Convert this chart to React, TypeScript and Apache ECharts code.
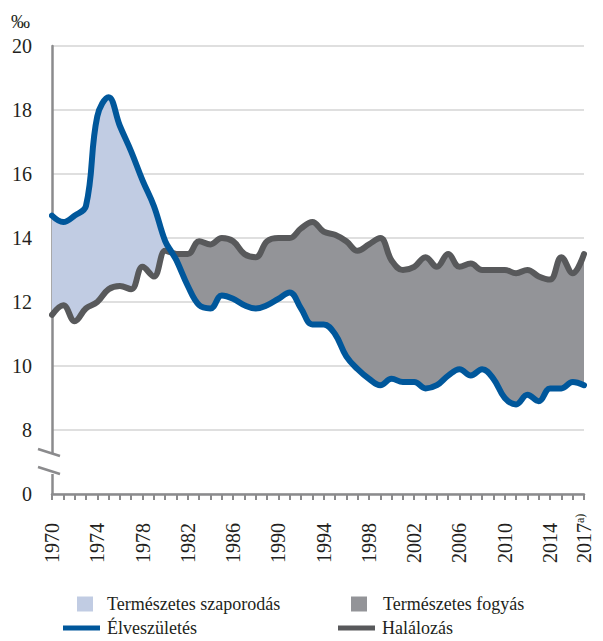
import React, { useEffect, useRef } from "react";
import * as echarts from "echarts";

const years = [
  1970, 1971, 1972, 1973, 1974, 1975, 1976, 1977, 1978, 1979,
  1980, 1981, 1982, 1983, 1984, 1985, 1986, 1987, 1988, 1989,
  1990, 1991, 1992, 1993, 1994, 1995, 1996, 1997, 1998, 1999,
  2000, 2001, 2002, 2003, 2004, 2005, 2006, 2007, 2008, 2009,
  2010, 2011, 2012, 2013, 2014, 2015, 2016, 2017,
];

// Élveszületés (per 1000)
const births = [
  14.7, 14.5, 14.7, 15.0, 17.8, 18.4, 17.5, 16.7, 15.8, 15.0,
  13.9, 13.3, 12.5, 11.9, 11.8, 12.2, 12.1, 11.9, 11.8, 11.9,
  12.1, 12.3, 11.8, 11.3, 11.3, 11.0, 10.3, 9.9, 9.6, 9.4,
  9.6, 9.5, 9.5, 9.3, 9.4, 9.7, 9.9, 9.7, 9.9, 9.6,
  9.0, 8.8, 9.1, 8.9, 9.3, 9.3, 9.5, 9.4,
];

// Halálozás (per 1000)
const deaths = [
  11.6, 11.9, 11.4, 11.8, 12.0, 12.4, 12.5, 12.4, 13.1, 12.8,
  13.6, 13.5, 13.5, 13.9, 13.8, 14.0, 13.9, 13.5, 13.4, 13.9,
  14.0, 14.0, 14.3, 14.5, 14.2, 14.1, 13.9, 13.6, 13.8, 14.0,
  13.3, 13.0, 13.1, 13.4, 13.1, 13.5, 13.1, 13.2, 13.0, 13.0,
  13.0, 12.9, 13.0, 12.8, 12.7, 13.4, 12.9, 13.5,
];

const labelYears = [1970, 1974, 1978, 1982, 1986, 1990, 1994, 1998, 2002, 2006, 2010, 2014, 2017];
const lastYearLabel = "2017";
const lastYearNote = "a)";

const seriesNames = {
  pos: "Természetes szaporodás",
  neg: "Természetes fogyás",
  births: "Élveszületés",
  deaths: "Halálozás",
};

const FONT = "Liberation Serif";
const TEXT = "#231f20";
const AXIS = "#8b8b8d";
const BLUE = "#00579b";
const DARK = "#58595b";
const FILL_POS = "#c1cce3";
const FILL_NEG = "#939498";

type Pt = { x: number; b: number; d: number };

// yearly points plus the interpolated crossing point of the two curves
function buildPoints(): Pt[] {
  const pts: Pt[] = [];
  for (let i = 0; i < years.length; i++) {
    pts.push({ x: years[i], b: births[i], d: deaths[i] });
    if (i < years.length - 1) {
      const d0 = births[i] - deaths[i];
      const d1 = births[i + 1] - deaths[i + 1];
      if (d0 * d1 < 0) {
        const t = d0 / (d0 - d1);
        const xc = years[i] + t * (years[i + 1] - years[i]);
        const yc = births[i] + t * (births[i + 1] - births[i]);
        pts.push({ x: xc, b: yc, d: yc });
      }
    }
  }
  return pts;
}

export default function App() {
  const ref = useRef<HTMLDivElement>(null);

  useEffect(() => {
    if (!ref.current) return;
    const chart = echarts.init(ref.current, undefined, { renderer: "svg" });
    const pts = buildPoints();
    const smooth = 0.4;

    const legendCommon = {
      orient: "horizontal" as const,
      padding: 0,
      selectedMode: false,
    };
    const lt = (pad: number) => ({ fontFamily: FONT, fontSize: 18, lineHeight: 20, color: TEXT, padding: [0, 0, 0, pad] });

    // value first, year second, so that stacking happens on the value (y) dimension
    const stackEncode = { x: 1, y: 0 };

    const option: any = {
      animation: false,
      backgroundColor: "#ffffff",
      textStyle: { fontFamily: FONT },
      grid: { left: 52, right: 19, top: 46, bottom: 147, containLabel: false },
      xAxis: {
        type: "value",
        min: 1970,
        max: 2017,
        interval: 1,
        axisLine: { show: true, lineStyle: { color: AXIS, width: 2.5 } },
        axisTick: { show: true, length: 6, lineStyle: { color: AXIS, width: 2 } },
        splitLine: { show: false },
        axisLabel: {
          rotate: 90,
          align: "left",
          verticalAlign: "middle",
          margin: 69,
          fontFamily: FONT,
          fontSize: 20,
          color: TEXT,
          formatter: (v: number) => {
            if (v === 2017) return `{y|${lastYearLabel}}{s|${lastYearNote}}`;
            return labelYears.includes(v) ? String(v) : "";
          },
          rich: {
            y: { fontFamily: FONT, fontSize: 20, color: TEXT },
            s: { fontFamily: FONT, fontSize: 12, color: TEXT, verticalAlign: "top", padding: [0, 0, 7, 0] },
          },
        },
      },
      yAxis: {
        type: "value",
        min: 6,
        max: 20,
        interval: 2,
        name: "‰",
        nameLocation: "end",
        nameGap: 15,
        nameTextStyle: { fontFamily: FONT, fontSize: 19, color: TEXT, align: "right", padding: [0, 22, 0, 0] },
        axisLine: { show: true, lineStyle: { color: AXIS, width: 2.5 } },
        axisTick: { show: false },
        splitLine: { show: true, lineStyle: { color: "#d4d4d4", width: 1.5 } },
        axisLabel: {
          fontFamily: FONT,
          fontSize: 20,
          color: TEXT,
          margin: 20,
          formatter: (v: number) => (v === 6 ? "0" : String(v)),
        },
      },
      legend: [
        { ...legendCommon, left: 77, top: 594, itemWidth: 16, itemHeight: 15,
          data: [{ name: seriesNames.pos, icon: "rect", itemStyle: { color: FILL_POS } }],
          textStyle: lt(9) },
        { ...legendCommon, left: 351, top: 594, itemWidth: 16, itemHeight: 15,
          data: [{ name: seriesNames.neg, icon: "rect", itemStyle: { color: FILL_NEG } }],
          textStyle: lt(11) },
        { ...legendCommon, left: 63, top: 618, itemWidth: 37, itemHeight: 5,
          data: [{ name: seriesNames.births, icon: "rect", itemStyle: { color: BLUE } }],
          textStyle: lt(2) },
        { ...legendCommon, left: 338, top: 618, itemWidth: 37, itemHeight: 5,
          data: [{ name: seriesNames.deaths, icon: "rect", itemStyle: { color: DARK } }],
          textStyle: lt(2) },
      ],
      series: [
        {
          type: "line", name: "base", stack: "fill", encode: stackEncode,
          data: pts.map((p) => [Math.min(p.b, p.d), p.x]),
          smooth, symbol: "none", lineStyle: { width: 0, opacity: 0 }, silent: true, z: 1,
        },
        {
          type: "line", name: seriesNames.pos, stack: "fill", encode: stackEncode,
          data: pts.map((p) => [Math.max(p.b - p.d, 0), p.x]),
          smooth, symbol: "none", color: FILL_POS, lineStyle: { width: 0, opacity: 0 },
          areaStyle: { color: FILL_POS, opacity: 1 }, silent: true, z: 1,
        },
        {
          type: "line", name: seriesNames.neg, stack: "fill", encode: stackEncode,
          data: pts.map((p) => [Math.max(p.d - p.b, 0), p.x]),
          smooth, symbol: "none", color: FILL_NEG, lineStyle: { width: 0, opacity: 0 },
          areaStyle: { color: FILL_NEG, opacity: 1 }, silent: true, z: 1,
        },
        {
          type: "line", name: seriesNames.deaths,
          data: pts.map((p) => [p.x, p.d]),
          smooth, symbol: "none", color: DARK,
          lineStyle: { color: DARK, width: 6, cap: "round", join: "round" }, z: 3,
        },
        {
          type: "line", name: seriesNames.births,
          data: pts.map((p) => [p.x, p.b]),
          smooth, symbol: "none", color: BLUE,
          lineStyle: { color: BLUE, width: 6, cap: "round", join: "round" }, z: 4,
        },
      ],
      graphic: [
        { type: "rect", z: 100, shape: { x: 48, y: 453, width: 8, height: 21 }, style: { fill: "#ffffff" } },
        { type: "line", z: 101, shape: { x1: 38, y1: 449, x2: 60, y2: 456 }, style: { stroke: AXIS, lineWidth: 2.5 } },
        { type: "line", z: 101, shape: { x1: 38, y1: 467, x2: 60, y2: 474 }, style: { stroke: AXIS, lineWidth: 2.5 } },
      ],
    };

    chart.setOption(option);
    return () => chart.dispose();
  }, []);

  return <div ref={ref} style={{ width: 603, height: 641, position: "absolute", left: 0, top: 0 }} />;
}
